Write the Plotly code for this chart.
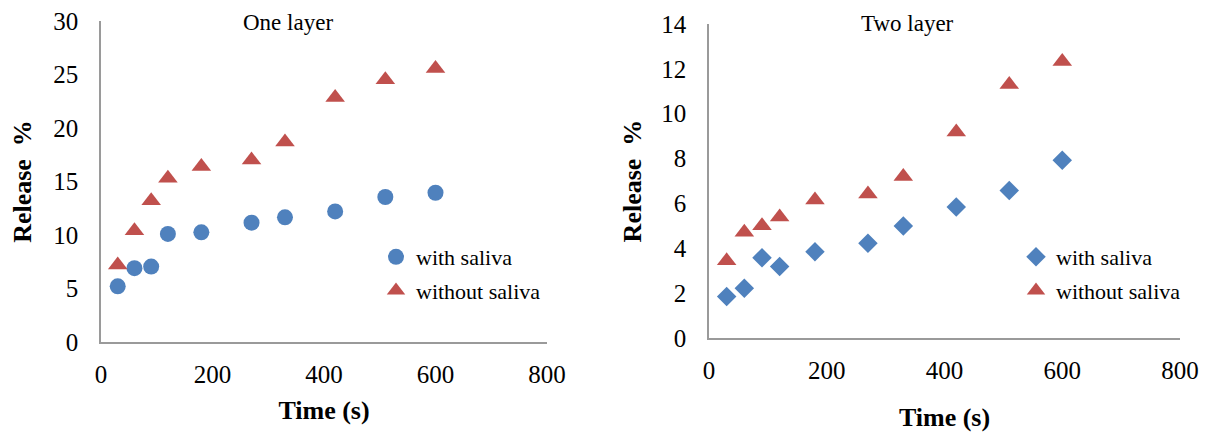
import plotly.graph_objects as go

time_s = [30, 60, 90, 120, 180, 270, 330, 420, 510, 600]
one_with = [5.2, 6.9, 7.05, 10.1, 10.25, 11.15, 11.65, 12.2, 13.55, 13.95]
one_without = [7.2, 10.4, 13.2, 15.3, 16.4, 17.0, 18.7, 22.85, 24.5, 25.55]
two_with = [1.85, 2.22, 3.58, 3.19, 3.85, 4.22, 4.99, 5.84, 6.58, 7.93]
two_without = [3.44, 4.72, 5.0, 5.4, 6.15, 6.42, 7.2, 9.18, 11.3, 12.33]

BLUE = "#4F81BD"
RED = "#C0504D"
FONT = "Liberation Serif, Times New Roman, serif"
# page body has an 8px margin, so the figure is drawn 8px smaller than the window
W, H = 1203, 424

fig = go.Figure()
fig.add_trace(go.Scatter(x=time_s, y=one_with, mode="markers", name="with saliva",
                         marker=dict(symbol="circle", size=16, color=BLUE),
                         xaxis="x", yaxis="y", legend="legend", legendgroup="a"))
fig.add_trace(go.Scatter(x=time_s, y=one_without, mode="markers", name="without saliva",
                         marker=dict(symbol="triangle-up", size=17, color=RED),
                         xaxis="x", yaxis="y", legend="legend", legendgroup="b"))
fig.add_trace(go.Scatter(x=time_s, y=two_with, mode="markers", name="with saliva",
                         marker=dict(symbol="diamond", size=15, color=BLUE),
                         xaxis="x2", yaxis="y2", legend="legend2", legendgroup="c"))
fig.add_trace(go.Scatter(x=time_s, y=two_without, mode="markers", name="without saliva",
                         marker=dict(symbol="triangle-up", size=17, color=RED),
                         xaxis="x2", yaxis="y2", legend="legend2", legendgroup="d"))

axis_common = dict(showgrid=False, zeroline=False, showline=True, linecolor="#9a9a9a",
                   linewidth=1.5, ticks="", automargin=False, ticklabeloverflow="allow",
                   tickfont=dict(family=FONT, size=25, color="black"))
title_font = dict(family=FONT, size=26, color="black")
leg_font = dict(family=FONT, size=22, color="black")

fig.update_layout(
    width=W, height=H,
    margin=dict(l=0, r=0, t=0, b=0, autoexpand=False),
    font=dict(family=FONT, color="black"),
    plot_bgcolor="white", paper_bgcolor="white",
    xaxis=dict(domain=[93 / W, 539 / W], range=[0, 800], dtick=200, anchor="y",
               ticklabelstandoff=9,
               title=dict(text="<b>Time (s)</b>", font=title_font, standoff=14),
               **axis_common),
    yaxis=dict(domain=[(H - 334) / H, (H - 13) / H], range=[0, 30], dtick=5, anchor="x",
               ticklabelstandoff=16,
               title=dict(text="<b>Release  %</b>", font=title_font, standoff=17),
               **axis_common),
    xaxis2=dict(domain=[701 / W, 1172 / W], range=[0, 800], dtick=200, anchor="y2",
                ticklabelstandoff=9,
                title=dict(text="<b>Time (s)</b>", font=title_font, standoff=26),
                **axis_common),
    yaxis2=dict(domain=[(H - 330) / H, (H - 16) / H], range=[0, 14], dtick=2, anchor="x2",
                ticklabelstandoff=16,
                title=dict(text="<b>Release  %</b>", font=title_font, standoff=12),
                **axis_common),
    legend=dict(x=368 / W, y=(H - 228) / H, xanchor="left", yanchor="top",
                bgcolor="rgba(0,0,0,0)", font=leg_font, tracegroupgap=2, itemwidth=30),
    legend2=dict(x=1008 / W, y=(H - 228) / H, xanchor="left", yanchor="top",
                 bgcolor="rgba(0,0,0,0)", font=leg_font, tracegroupgap=2, itemwidth=30),
    annotations=[
        dict(text="One layer", x=280 / W, y=(H - 15) / H, xref="paper", yref="paper",
             xanchor="center", yanchor="middle",
             showarrow=False, font=dict(family=FONT, size=23, color="black")),
        dict(text="Two layer", x=899 / W, y=(H - 16) / H, xref="paper", yref="paper",
             xanchor="center", yanchor="middle",
             showarrow=False, font=dict(family=FONT, size=23, color="black")),
    ],
)

fig.write_html("out.html")
